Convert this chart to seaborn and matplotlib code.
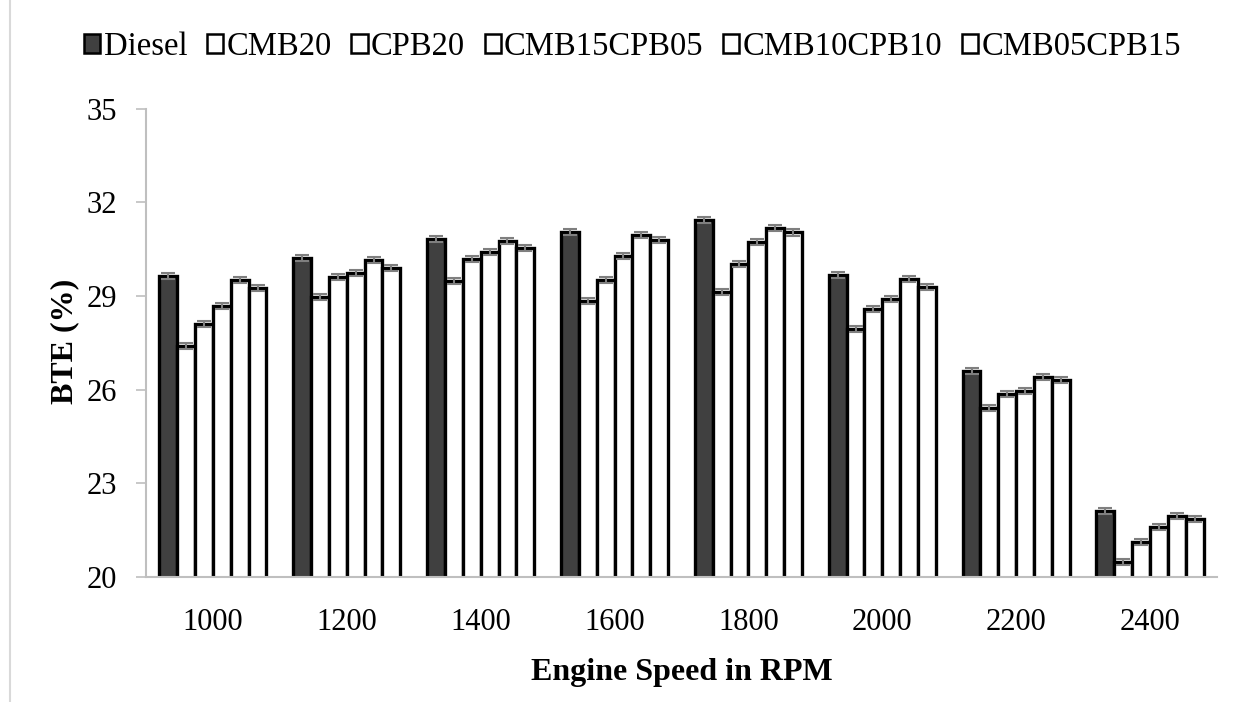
import numpy as np
import pandas as pd
import seaborn as sns
import matplotlib.pyplot as plt
from matplotlib.lines import Line2D
from matplotlib.patches import Patch

# Engine speeds and fuel blends
rpm = ['1000', '1200', '1400', '1600', '1800', '2000', '2200', '2400']
fuels = ['Diesel', 'CMB20', 'CPB20', 'CMB15CPB05', 'CMB10CPB10', 'CMB05CPB15']

# BTE (%)
diesel = [29.65, 30.22, 30.83, 31.06, 31.44, 29.68, 26.60, 22.12]
cmb20 = [27.40, 28.97, 29.49, 28.85, 29.13, 27.95, 25.42, 20.48]
cpb20 = [28.10, 29.62, 30.19, 29.52, 30.03, 28.59, 25.87, 21.12]
cmb15cpb05 = [28.69, 29.74, 30.42, 30.29, 30.74, 28.91, 25.96, 21.60]
cmb10cpb10 = [29.52, 30.16, 30.77, 30.96, 31.19, 29.55, 26.41, 21.95]
cmb05cpb15 = [29.26, 29.90, 30.54, 30.80, 31.04, 29.30, 26.31, 21.86]
err = 0.1

series = [diesel, cmb20, cpb20, cmb15cpb05, cmb10cpb10, cmb05cpb15]
df = pd.DataFrame({
    'rpm': rpm * len(fuels),
    'fuel': np.repeat(fuels, len(rpm)),
    'bte': np.concatenate(series),
})

plt.rcParams['font.family'] = ['Liberation Serif', 'DejaVu Serif']
fig = plt.figure(figsize=(12.33, 7.02), dpi=100)
ax = fig.add_axes([0.1184, 0.178, 0.8686, 0.667])

palette = {f: ('#404040' if f == 'Diesel' else 'white') for f in fuels}
sns.barplot(data=df, x='rpm', y='bte', hue='fuel', hue_order=fuels, order=rpm,
            palette=palette, edgecolor='black', linewidth=2.4, errorbar=None,
            width=0.8, ax=ax, legend=False)

# error bars at bar centers
for patch in ax.patches:
    h = patch.get_height()
    if h <= 0:
        continue
    cx = patch.get_x() + patch.get_width() / 2
    ax.errorbar(cx, h, yerr=err, fmt='none', ecolor='#7f7f7f', elinewidth=1.5,
                capsize=5, capthick=1.5, zorder=5)

ax.set_ylim(20, 35)
ax.set_yticks([20, 23, 26, 29, 32, 35])
ax.set_xlim(-0.5, len(rpm) - 0.5)
ax.set_xlabel('Engine Speed in RPM', fontsize=23, fontweight='bold')
ax.set_ylabel('BTE (%)', fontsize=23, fontweight='bold')
ax.xaxis.set_label_coords(0.5, -0.172)
ax.yaxis.set_label_coords(-0.062, 0.504)
ax.tick_params(axis='y', labelsize=22, length=7.2, color='#bfbfbf', width=1.2, pad=13.5)
ax.tick_params(axis='x', labelsize=22, length=0, pad=22)
for s in ['top', 'right']:
    ax.spines[s].set_visible(False)
for s in ['left', 'bottom']:
    ax.spines[s].set_color('#bfbfbf')
    ax.spines[s].set_linewidth(1.5)

handles = [Patch(facecolor=palette[f], edgecolor='black', linewidth=1.8, label=f) for f in fuels]
fig.legend(handles=handles, loc='center', bbox_to_anchor=(0.513, 0.933), ncol=6,
           frameon=False, fontsize=23.5, handlelength=0.5, handleheight=0.5,
           handletextpad=0.1, columnspacing=0.6)

# chart frame on the left
fig.add_artist(Line2D([0.008, 0.008], [0, 1], color='#d9d9d9', linewidth=1.5))

fig.savefig('out.png', dpi=100)
